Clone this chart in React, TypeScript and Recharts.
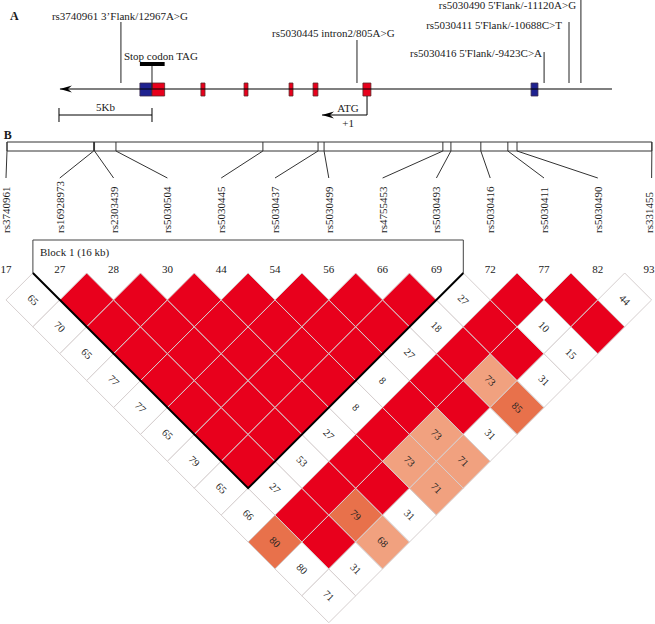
import {
  ComposedChart,
  XAxis,
  YAxis,
  Scatter,
  ReferenceLine,
  ReferenceArea,
} from "recharts";

const W = 655;
const H = 624;
const FONT = "'Liberation Serif', 'Times New Roman', Times, serif";

// ---- panel A: gene structure, positions in kb (0 = stop codon) ----
const geneSpanKb = [-4.95, 24.73];
const utr3Kb = [-0.65, 0];
const codingExonsKb = [
  [0, 0.68],
  [2.63, 2.85],
  [4.95, 5.16],
  [7.37, 7.58],
  [8.66, 8.92],
  [11.34, 11.77],
];
const utr5Kb = [20.38, 20.75];
const atgKb = 11.56;
const atgArrowKb = 9.14;
const scaleBarKb = [-5, 0];
const geneSnpNames = [
  "rs3740961 3’Flank/12967A>G",
  "rs5030445 intron2/805A>G",
  "rs5030416 5'Flank/-9423C>A",
  "rs5030411 5'Flank/-10688C>T",
  "rs5030490 5'Flank/-11120A>G",
];
const geneSnpKb = [-1.67, 11.02, 21.08, 22.42, 23.06];

// ---- panel B: LD plot ----
const markerNums = [17, 27, 28, 30, 44, 54, 56, 66, 69, 72, 77, 82, 93];
const snpIds = [
  "rs3740961",
  "rs16928973",
  "rs2303439",
  "rs5030504",
  "rs5030445",
  "rs5030437",
  "rs5030499",
  "rs4755453",
  "rs5030493",
  "rs5030416",
  "rs5030411",
  "rs5030490",
  "rs331455",
];
const snpPhysKb = [0, 3.88, 3.92, 4.88, 11.46, 13.93, 14.2, 19.52, 19.88, 21.22, 22.43, 22.84, 28.88];

// D' x100 for marker i against i+1..12 (100 = D' 1, drawn without a number)
const dPrimeRows: number[][] = [
  [65, 70, 65, 77, 77, 65, 79, 65, 66, 80, 80, 71],
  [100, 100, 100, 100, 100, 100, 100, 27, 100, 100, 31],
  [100, 100, 100, 100, 100, 100, 53, 100, 79, 68],
  [100, 100, 100, 100, 100, 27, 100, 100, 31],
  [100, 100, 100, 100, 8, 100, 73, 71],
  [100, 100, 100, 8, 100, 73, 71],
  [100, 100, 27, 100, 100, 31],
  [100, 18, 100, 73, 85],
  [27, 100, 100, 31],
  [100, 10, 15],
  [100, 100],
  [44],
];
// colour class per cell: r strong LD, o dark salmon, p light salmon, w white
const ldClassRows = [
  "wwwwwwwwwoww",
  "rrrrrrrwrrw",
  "rrrrrrwrop",
  "rrrrrwrrw",
  "rrrrwrpp",
  "rrrwrpp",
  "rrwrrw",
  "rwrpo",
  "wrrw",
  "rww",
  "rr",
  "w",
];
const blockMarkers = [1, 8];
const blockLabel = "Block 1 (16 kb)";

const LD_FILL: Record<string, string> = {
  r: "#e8001c",
  o: "#e8714b",
  p: "#f1a17f",
  w: "#ffffff",
};

// axis domains (hidden axes, chart has no margins)
const KB_MIN = -8.172;
const KB_MAX = 27.043;
const PHYS_MIN = -0.3135;
const PHYS_MAX = 29.02;
const MK_MIN = -0.1115;
const MK_MAX = 12.063;
const D_MIN = -10.149;
const D_MAX = 13.048;

const physPx = (kb: number) => ((kb - PHYS_MIN) / (PHYS_MAX - PHYS_MIN)) * W;
const PX_PER_MK = W / (MK_MAX - MK_MIN);
const CELL_HW = 0.5 * PX_PER_MK;
const CELL_HH = H / (D_MAX - D_MIN);

// layout rows (px)
const ROW_TRACK = 89;
const ROW_BOX = [83, 96];
const ROW_STOP_BAR = [62, 66];
const ROW_ATG = 115;
const ROW_SCALE = 115;
const snpLineTop = [22, 40, 52, 22, 0];
const snpLabelKb = [-5.38, 6.45, 20.97, 22.04, 22.8];
const snpLabelRow = [20, 37, 57, 29, 9];
const snpLabelAnchor = ["start", "start", "end", "end", "end"];
const ROW_PHYS = [142, 151];
const ROW_CONN_END = 178;
const ROW_NAME = 233;
const ROW_BLOCK_TOP = 240;
const ROW_NUM = 273;

const ldCells = dPrimeRows.flatMap((row, i) =>
  row.map((v, k) => {
    const j = i + k + 1;
    return { x: (i + j) / 2, y: j - i, v, c: ldClassRows[i][k] };
  })
);

const TextMark = (p: any) => {
  const { cx, cy, payload } = p;
  const x = cx + (payload.dx || 0);
  return (
    <text
      x={x}
      y={cy}
      textAnchor={payload.anchor || "start"}
      fontSize={payload.size || 11}
      fontWeight={payload.bold ? "bold" : "normal"}
      fontFamily={FONT}
      fill="#1a1a1a"
      transform={payload.rot ? `rotate(${payload.rot} ${x} ${cy})` : undefined}
    >
      {payload.t}
    </text>
  );
};

const ArrowLeft = (p: any) => {
  const { cx, cy } = p;
  return (
    <polygon
      points={`${cx},${cy} ${cx + 12},${cy - 3.5} ${cx + 8},${cy} ${cx + 12},${cy + 3.5}`}
      fill="#000"
    />
  );
};

const Connector = (p: any) => {
  const { cx, cy, payload } = p;
  return (
    <line
      x1={cx}
      y1={cy}
      x2={physPx(payload.kb)}
      y2={cy - (ROW_CONN_END - ROW_PHYS[1])}
      stroke="#333"
      strokeWidth={1}
    />
  );
};

const Diamond = (p: any) => {
  const { cx, cy, payload } = p;
  const pts = `${cx},${cy - CELL_HH} ${cx + CELL_HW},${cy} ${cx},${cy + CELL_HH} ${cx - CELL_HW},${cy}`;
  return (
    <g>
      <polygon points={pts} fill={LD_FILL[payload.c]} stroke="#d6cfcf" strokeWidth={1} />
      {payload.v < 100 && (
        <text
          x={cx}
          y={cy}
          textAnchor="middle"
          dominantBaseline="central"
          fontSize={10.5}
          fontFamily={FONT}
          fill="#222"
          transform={`rotate(45 ${cx} ${cy})`}
        >
          {payload.v}
        </text>
      )}
    </g>
  );
};

// block outline: drawn from the bottom apex of the block triangle
const BlockV = (p: any) => {
  const { cx, cy, payload } = p;
  const dx = payload.half * PX_PER_MK;
  const dy = payload.depth * CELL_HH;
  return (
    <polyline
      points={`${cx - dx},${cy - dy} ${cx},${cy} ${cx + dx},${cy - dy}`}
      fill="none"
      stroke="#000"
      strokeWidth={2}
    />
  );
};

const geneTexts = [
  { x: -7.63, y: 20, t: "A", bold: true, size: 12 },
  ...geneSnpNames.map((t, i) => ({ x: snpLabelKb[i], y: snpLabelRow[i], t, anchor: snpLabelAnchor[i] })),
  { x: -1.51, y: 60, t: "Stop codon TAG" },
  { x: (scaleBarKb[0] + scaleBarKb[1]) / 2, y: 111, t: "5Kb", anchor: "middle" },
  { x: 10.54, y: 112, t: "ATG", anchor: "middle" },
  { x: 10.54, y: 127, t: "+1", anchor: "middle" },
];

const lastIdx = markerNums.length - 1;
const ldTexts = [
  { x: -0.04, y: 139, t: "B", bold: true, size: 12 },
  { x: blockMarkers[0] - 0.5, y: 256, t: blockLabel, dx: 7 },
  ...markerNums.map((n, i) => ({
    x: i,
    y: ROW_NUM,
    t: String(n),
    anchor: i === lastIdx ? "end" : "middle",
    dx: i === lastIdx ? 3 : 0,
  })),
  ...snpIds.map((t, i) => ({ x: i, y: ROW_NAME, t, rot: -90, dx: i === lastIdx ? 1.5 : 4 })),
];

const connectors = snpPhysKb.map((kb, i) => ({ x: i, y: ROW_CONN_END, kb }));
const arrows = [
  { x: geneSpanKb[0], y: ROW_TRACK },
  { x: atgArrowKb, y: ROW_ATG },
];

export default function App() {
  const [bLo, bHi] = blockMarkers;
  const bL = bLo - 0.5;
  const bR = bHi + 0.5;
  const blockApex = [{ x: (bLo + bHi) / 2, y: bHi - bLo + 1, half: (bHi - bLo + 1) / 2, depth: bHi - bLo + 1 }];
  return (
    <div style={{ width: W, height: H, background: "#fff" }}>
      <style>{"body{margin:0;background:#fff}"}</style>
      <ComposedChart width={W} height={H} margin={{ top: 0, right: 0, bottom: 0, left: 0 }}>
        <XAxis xAxisId="kb" dataKey="x" type="number" domain={[KB_MIN, KB_MAX]} allowDataOverflow hide />
        <XAxis xAxisId="phys" dataKey="x" type="number" domain={[PHYS_MIN, PHYS_MAX]} allowDataOverflow hide />
        <XAxis xAxisId="mk" dataKey="x" type="number" domain={[MK_MIN, MK_MAX]} allowDataOverflow hide />
        <YAxis yAxisId="row" dataKey="y" type="number" domain={[0, H]} reversed allowDataOverflow hide />
        <YAxis yAxisId="d" dataKey="y" type="number" domain={[D_MIN, D_MAX]} reversed allowDataOverflow hide />

        {/* panel A lines */}
        <ReferenceLine xAxisId="kb" yAxisId="row" ifOverflow="visible" stroke="#000" strokeWidth={1.2}
          segment={[{ x: geneSpanKb[0], y: ROW_TRACK }, { x: geneSpanKb[1], y: ROW_TRACK }]} />
        {geneSnpKb.map((k, i) => (
          <ReferenceLine key={"sl" + i} xAxisId="kb" yAxisId="row" ifOverflow="visible" stroke="#222" strokeWidth={1}
            segment={[{ x: k, y: snpLineTop[i] }, { x: k, y: ROW_BOX[0] }]} />
        ))}
        <ReferenceLine xAxisId="kb" yAxisId="row" ifOverflow="visible" stroke="#222"
          segment={[{ x: 0, y: ROW_STOP_BAR[1] }, { x: 0, y: ROW_TRACK }]} />
        <ReferenceLine xAxisId="kb" yAxisId="row" ifOverflow="visible" stroke="#000"
          segment={[{ x: atgKb, y: ROW_BOX[1] }, { x: atgKb, y: ROW_ATG }]} />
        <ReferenceLine xAxisId="kb" yAxisId="row" ifOverflow="visible" stroke="#000"
          segment={[{ x: atgKb, y: ROW_ATG }, { x: atgArrowKb, y: ROW_ATG }]} />
        <ReferenceLine xAxisId="kb" yAxisId="row" ifOverflow="visible" stroke="#000"
          segment={[{ x: scaleBarKb[0], y: ROW_SCALE }, { x: scaleBarKb[1], y: ROW_SCALE }]} />
        {scaleBarKb.map((k, i) => (
          <ReferenceLine key={"st" + i} xAxisId="kb" yAxisId="row" ifOverflow="visible" stroke="#000"
            segment={[{ x: k, y: ROW_SCALE - 7 }, { x: k, y: ROW_SCALE + 7 }]} />
        ))}

        {/* panel A boxes */}
        <ReferenceArea xAxisId="kb" yAxisId="row" ifOverflow="visible" isFront x1={utr3Kb[0]} x2={utr3Kb[1]}
          y1={ROW_BOX[0]} y2={ROW_BOX[1]} fill="#1f2290" fillOpacity={1} stroke="#3a2a4a" strokeWidth={0.8} />
        {codingExonsKb.map((e, i) => (
          <ReferenceArea key={"ex" + i} xAxisId="kb" yAxisId="row" ifOverflow="visible" isFront x1={e[0]} x2={e[1]}
            y1={ROW_BOX[0]} y2={ROW_BOX[1]} fill="#e8001c" fillOpacity={1} stroke="#5a2a2a" strokeWidth={0.8} />
        ))}
        <ReferenceArea xAxisId="kb" yAxisId="row" ifOverflow="visible" isFront x1={utr5Kb[0]} x2={utr5Kb[1]}
          y1={ROW_BOX[0]} y2={ROW_BOX[1]} fill="#1f2290" fillOpacity={1} stroke="#3a2a4a" strokeWidth={0.8} />
        <ReferenceArea xAxisId="kb" yAxisId="row" ifOverflow="visible" isFront x1={utr3Kb[0]} x2={codingExonsKb[0][1]}
          y1={ROW_STOP_BAR[0]} y2={ROW_STOP_BAR[1]} fill="#000" fillOpacity={1} />

        <Scatter xAxisId="kb" yAxisId="row" data={arrows} shape={ArrowLeft} isAnimationActive={false} />
        <Scatter xAxisId="kb" yAxisId="row" data={geneTexts} shape={TextMark} isAnimationActive={false} />

        {/* panel B physical map */}
        <ReferenceArea xAxisId="phys" yAxisId="row" ifOverflow="visible" x1={snpPhysKb[0]} x2={snpPhysKb[lastIdx]}
          y1={ROW_PHYS[0]} y2={ROW_PHYS[1]} fill="none" stroke="#333" strokeWidth={1} />
        {snpPhysKb.map((k, i) => (
          <ReferenceLine key={"pt" + i} xAxisId="phys" yAxisId="row" ifOverflow="visible" stroke="#333"
            segment={[{ x: k, y: ROW_PHYS[0] }, { x: k, y: ROW_PHYS[1] }]} />
        ))}
        <Scatter xAxisId="mk" yAxisId="row" data={connectors} shape={Connector} isAnimationActive={false} />

        {/* block frame */}
        <ReferenceLine xAxisId="mk" yAxisId="row" ifOverflow="visible" stroke="#444"
          segment={[{ x: bL, y: ROW_BLOCK_TOP }, { x: bR, y: ROW_BLOCK_TOP }]} />
        <ReferenceLine xAxisId="mk" yAxisId="row" ifOverflow="visible" stroke="#444"
          segment={[{ x: bL, y: ROW_BLOCK_TOP }, { x: bL, y: ROW_NUM }]} />
        <ReferenceLine xAxisId="mk" yAxisId="row" ifOverflow="visible" stroke="#444"
          segment={[{ x: bR, y: ROW_BLOCK_TOP }, { x: bR, y: ROW_NUM }]} />

        <Scatter xAxisId="mk" yAxisId="row" data={ldTexts} shape={TextMark} isAnimationActive={false} />
        <Scatter xAxisId="mk" yAxisId="d" data={ldCells} shape={Diamond} isAnimationActive={false} />
        <Scatter xAxisId="mk" yAxisId="d" data={blockApex} shape={BlockV} isAnimationActive={false} />
      </ComposedChart>
    </div>
  );
}
